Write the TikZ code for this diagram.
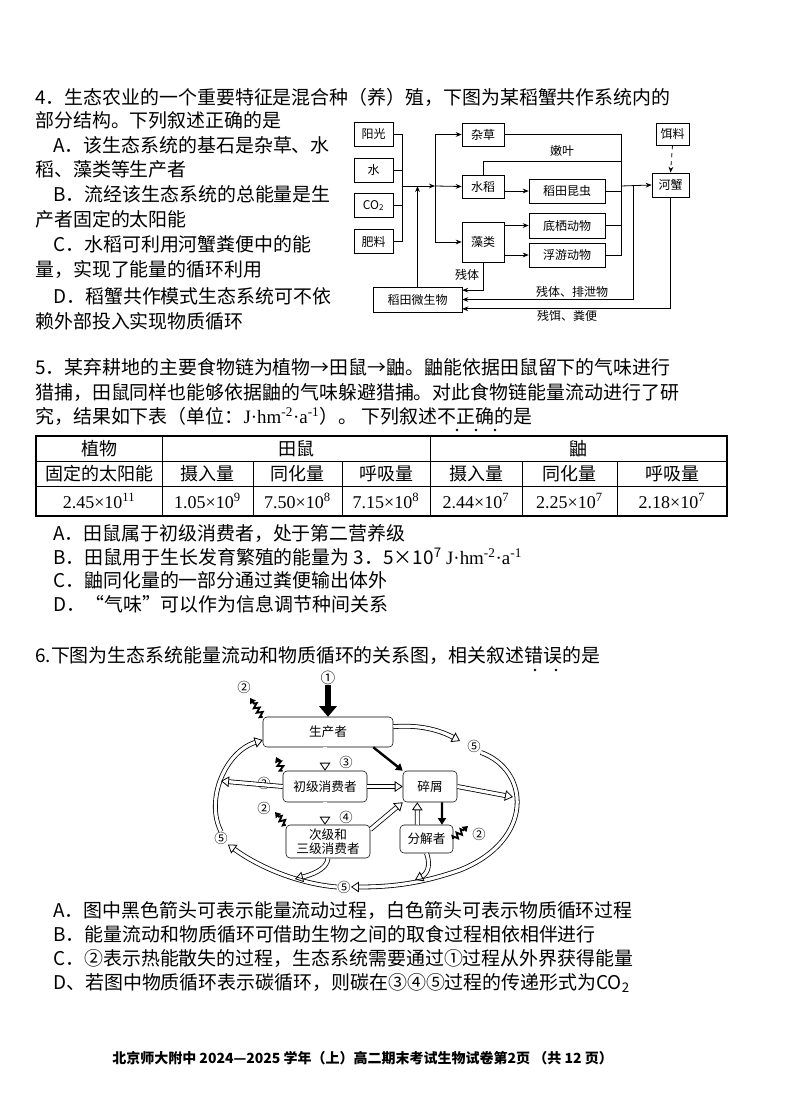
\documentclass[tikz,border=0pt]{standalone}
\usepackage{fontspec}
\setmainfont{Noto Sans CJK SC}
\newfontfamily\tnr{Liberation Serif}
\usetikzlibrary{arrows.meta,decorations.pathmorphing}
\begin{document}
\begin{tikzpicture}[x=0.75pt,y=-0.75pt,
 txt/.style={anchor=west,inner sep=0,font=\fontsize{14.2}{14}\selectfont},
 bx/.style={draw,inner sep=0,font=\fontsize{9}{10}\selectfont},
 rb/.style={draw,rounded corners=3pt,inner sep=0,font=\fontsize{9.5}{11}\selectfont,align=center},
 ar/.style={-{Stealth[length=4.5pt,width=3.5pt]},line width=0.6pt},
 ln/.style={line width=0.6pt},
 hol/.style={double=white,double distance=2.4pt,line width=0.6pt,-{Triangle[open,length=6pt,width=8pt,line width=0.6pt]}},
 blk/.style={line width=1.8pt,-{Triangle[length=5pt,width=6pt]}},
 zz/.style={line width=1.4pt,decorate,decoration={zigzag,segment length=4pt,amplitude=2pt,post length=3pt},-{Triangle[length=4pt,width=5pt]}},
 cell/.style={inner sep=0,font=\fontsize{13.5}{14}\selectfont},
 num/.style={inner sep=0,font=\tnr\fontsize{13.5}{14}\selectfont},
 dot/.style={circle,fill,inner sep=0,minimum size=2pt}]
\useasboundingbox[fill=white] (0,0) rectangle (794,1095);
% ---------- Q4 text
\node[txt] (q4a) at (35,97) {4．生态农业的一个重要特征是混合种（养）殖，下图为某稻蟹共作系统内的};
\node[txt] (q4b) at (35,120) {部分结构。下列叙述正确的是};
\node[txt] (q4c) at (53,145) {A．该生态系统的基石是杂草、水};
\node[txt] (q4d) at (35,169) {稻、藻类等生产者};
\node[txt] (q4e) at (53,194) {B．流经该生态系统的总能量是生};
\node[txt] (q4f) at (35,219) {产者固定的太阳能};
\node[txt] (q4g) at (53,244) {C．水稻可利用河蟹粪便中的能};
\node[txt] (q4h) at (35,269) {量，实现了能量的循环利用};
\node[txt] (q4i) at (53,296) {D．稻蟹共作模式生态系统可不依};
\node[txt] (q4j) at (35,321) {赖外部投入实现物质循环};
% ---------- Q4 diagram
\node[bx,minimum width=29.25pt,minimum height=18pt] (yg) at (373.5,134) {阳光};
\node[bx,minimum width=29.25pt,minimum height=18pt] (sh) at (373.5,170) {水};
\node[bx,minimum width=29.25pt,minimum height=18pt] (co) at (373.5,205.5) {CO\textsubscript{2}};
\node[bx,minimum width=29.25pt,minimum height=18pt] (fl) at (373.5,241.5) {肥料};
\node[bx,minimum width=31.5pt,minimum height=17.25pt] (zc) at (483,134.5) {杂草};
\node[bx,minimum width=31.5pt,minimum height=17.25pt] (sd) at (483,186.5) {水稻};
\node[bx,minimum width=31.5pt,minimum height=30pt] (zl) at (483,242) {藻类};
\node[bx,minimum width=57pt,minimum height=18pt] (kc) at (567,191) {稻田昆虫};
\node[bx,minimum width=57pt,minimum height=18.5pt] (dq) at (567,225.5) {底栖动物};
\node[bx,minimum width=57pt,minimum height=18pt] (fy) at (567,255) {浮游动物};
\node[bx,minimum width=24.75pt,minimum height=16.5pt] (el) at (672.5,134) {饵料};
\node[bx,minimum width=27.75pt,minimum height=18pt] (hx) at (670.5,185) {河蟹};
\node[bx,minimum width=66.75pt,minimum height=18.75pt] (ws) at (417.5,299.5) {稻田微生物};
\coordinate (J) at (402,186);
\coordinate (K) at (435,186);
\coordinate (M) at (621,186);
\coordinate (P) at (633,186);
\draw[ln] (yg.east) -| (J) (fl.east) -| (J) (sh.east) -- (sh.east -| J) (co.east) -- (co.east -| J);
\draw[ar] (J) -- (K);
\draw[ar] (K) -- (sd.west);
\draw[ar] (K) |- (zc.west);
\draw[ar] (K) |- (zl.west);
\draw[ar] (ws.north) -- (ws.north |- J);
\draw[ar] (sd.east |- kc.west) -- (kc.west);
\draw[ar] (zl.east |- dq.west) -- (dq.west);
\draw[ar] (zl.east |- fy.west) -- (fy.west);
\draw[ln] (zc.east) -| (fy.east -| M) -- (fy.east);
\draw[ln] (kc.east) -- (kc.east -| M) (dq.east) -- (dq.east -| M);
\draw[ln] (sd.north) |- (621,161);
\node[font=\fontsize{9}{10}\selectfont,inner sep=1pt] (nye) at (562,151) {嫩叶};
\draw[ar] (M) -- (hx.west);
\draw[ar,dashed] (el.south) -- (hx.north);
\draw[ar] (zl.south) |- ([yshift=7pt]ws.east);
\node[font=\fontsize{9}{10}\selectfont,inner sep=1pt] (ct) at (467,275) {残体};
\draw[ar] (P) |- (ws.east);
\node[font=\fontsize{9}{10}\selectfont,inner sep=1pt] (cp) at (572,292) {残体、排泄物};
\draw[ar] (hx.south) |- ([yshift=-7pt]ws.east);
\node[font=\fontsize{9}{10}\selectfont,inner sep=1pt] (cf) at (567,316) {残饵、粪便};
% ---------- Q5
\node[txt] (q5a) at (35,367) {5．某弃耕地的主要食物链为植物→田鼠→鼬。鼬能依据田鼠留下的气味进行};
\node[txt] (q5b) at (35,392) {猎捕，田鼠同样也能够依据鼬的气味躲避猎捕。对此食物链能量流动进行了研};
\node[txt] (q5c) at (35,416) {究，结果如下表（单位：{\tnr J·hm\textsuperscript{-2}·a\textsuperscript{-1}}）。 下列叙述不正确的是};
\node[dot] (d1) at (457,430) {}; \node[dot] (d2) at (476,430) {}; \node[dot] (d3) at (495,430) {};
% table
\draw[line width=0.8pt] (36,436) rectangle (727,516);
\draw[line width=0.5pt] (36,461) -- (727,461) (36,486) -- (727,486);
\draw[line width=0.5pt] (162,436) -- (162,516) (430,436) -- (430,516);
\foreach \x in {253,342,522,617} \draw[line width=0.5pt] (\x,461) -- (\x,516);
\node[cell] (h1) at (99,448.5) {植物};
\node[cell] (h2) at (296,448.5) {田鼠};
\node[cell] (h3) at (578.5,448.5) {鼬};
\node[cell] (s1) at (99,473.5) {固定的太阳能};
\node[cell] (s2) at (207.5,473.5) {摄入量};
\node[cell] (s3) at (297.5,473.5) {同化量};
\node[cell] (s4) at (386,473.5) {呼吸量};
\node[cell] (s5) at (476,473.5) {摄入量};
\node[cell] (s6) at (569.5,473.5) {同化量};
\node[cell] (s7) at (672,473.5) {呼吸量};
\node[num] (v1) at (99,501) {2.45×10\textsuperscript{11}};
\node[num] (v2) at (207.5,501) {1.05×10\textsuperscript{9}};
\node[num] (v3) at (297.5,501) {7.50×10\textsuperscript{8}};
\node[num] (v4) at (386,501) {7.15×10\textsuperscript{8}};
\node[num] (v5) at (476,501) {2.44×10\textsuperscript{7}};
\node[num] (v6) at (569.5,501) {2.25×10\textsuperscript{7}};
\node[num] (v7) at (672,501) {2.18×10\textsuperscript{7}};
\node[txt] (q5o1) at (53,533) {A．田鼠属于初级消费者，处于第二营养级};
\node[txt] (q5o2) at (53,557) {B．田鼠用于生长发育繁殖的能量为 3．5×10\textsuperscript{7} {\tnr J·hm\textsuperscript{-2}·a\textsuperscript{-1}}};
\node[txt] (q5o3) at (53,580) {C．鼬同化量的一部分通过粪便输出体外};
\node[txt] (q5o4) at (53,604) {D．“气味”可以作为信息调节种间关系};
% ---------- Q6
\node[txt] (q6) at (35,656) {6.下图为生态系统能量流动和物质循环的关系图，相关叙述错误的是};
\node[dot] (d4) at (535,670) {}; \node[dot] (d5) at (556,670) {};
\node[rb,minimum width=97.5pt,minimum height=22.5pt] (scz) at (328,732) {生产者};
\node[rb,minimum width=63pt,minimum height=23.25pt] (cj) at (325,786.5) {初级消费者};
\node[rb,minimum width=63pt,minimum height=24.75pt,font=\fontsize{9.5}{10.5}\selectfont] (cj2) at (328,841.5) {次级和\\三级消费者};
\node[rb,minimum width=40.5pt,minimum height=23.25pt] (sx) at (430,786.5) {碎屑};
\node[rb,minimum width=39.75pt,minimum height=21pt] (fj) at (426.5,839) {分解者};
\node[font=\fontsize{11}{11}\selectfont,inner sep=0] (c1) at (328,678) {①};
\draw[line width=5pt,-{Triangle[length=8pt,width=13pt]}] (c1.south) -- (scz.north);
\node[font=\fontsize{10}{10}\selectfont,inner sep=0] (c2a) at (244,687) {②};
\node[font=\fontsize{10}{10}\selectfont,inner sep=0] (c2b) at (264,783) {②};
\node[font=\fontsize{10}{10}\selectfont,inner sep=0] (c2c) at (264,808) {②};
\node[font=\fontsize{10}{10}\selectfont,inner sep=0] (c2d) at (479,834) {②};
\draw[zz] (scz.north west) -- (250,698);
\draw[zz] (cj.north west) -- (276,757);
\draw[zz] (cj2.north west) -- (275,812);
\draw[zz] (fj.east) -- (468,826);
\node[font=\fontsize{10}{10}\selectfont,inner sep=0] (c3) at (346,762) {③};
\node[font=\fontsize{10}{10}\selectfont,inner sep=0] (c4) at (346,817) {④};
\node[font=\fontsize{10}{10}\selectfont,inner sep=0] (c5a) at (474,746) {⑤};
\node[font=\fontsize{10}{10}\selectfont,inner sep=0] (c5b) at (221,838) {⑤};
\node[font=\fontsize{10}{10}\selectfont,inner sep=0] (c5c) at (344,887) {⑤};
\draw[hol] (scz.south -| cj.north) -- (cj.north);
\draw[hol] (cj.south -| cj2.north) ++(-3,0) -- ([xshift=-2.25pt]cj2.north);
\draw[hol] (cj.east) -- (sx.west);
\draw[blk] ([xshift=-15pt]scz.south east) -- (sx.north west);
\draw[hol] (cj2.east) ++(0,-12) -- (sx.south west);
\draw[blk] ([xshift=9pt]sx.south) -- ([xshift=11.6pt]fj.north);
\draw[hol] ([xshift=-7pt]fj.north) -- ([xshift=-9.5pt]sx.south);
% outer cycle
\draw[hol] ([yshift=4pt]scz.east) .. controls (425,724) and (445,733) .. (460,741);
\draw[hol] (c5a.south east) .. controls (530,770) and (535,840) .. (460,870) .. controls (420,884) and (390,887) .. (c5c.east);
\draw[hol] (c5c.west) .. controls (300,884) and (260,868) .. (c5b.south east);
\draw[hol] (c5b.north) .. controls (205,800) and (225,752) .. ([yshift=-6pt]scz.west);
\draw[hol] (cj.west) -- (221,781);
\draw[hol] (sx.east) -- (513,797);
\draw[hol] (cj2.south) .. controls (327,870) and (310,875) .. (295,879);
\draw[hol] (fj.south) .. controls (432,868) and (425,875) .. (415,880);
\node[txt] (q6o1) at (53,910) {A．图中黑色箭头可表示能量流动过程，白色箭头可表示物质循环过程};
\node[txt] (q6o2) at (53,934) {B．能量流动和物质循环可借助生物之间的取食过程相依相伴进行};
\node[txt] (q6o3) at (53,958) {C．②表示热能散失的过程，生态系统需要通过①过程从外界获得能量};
\node[txt] (q6o4) at (53,983) {D、若图中物质循环表示碳循环，则碳在③④⑤过程的传递形式为CO\textsubscript{2}};
\node[anchor=west,inner sep=0,font=\bfseries\fontsize{10.5}{11}\selectfont] (ft) at (112,1058) {北京师大附中 2024—2025 学年（上）高二期末考试生物试卷第2页 （共 12 页）};
\end{tikzpicture}
\end{document}
